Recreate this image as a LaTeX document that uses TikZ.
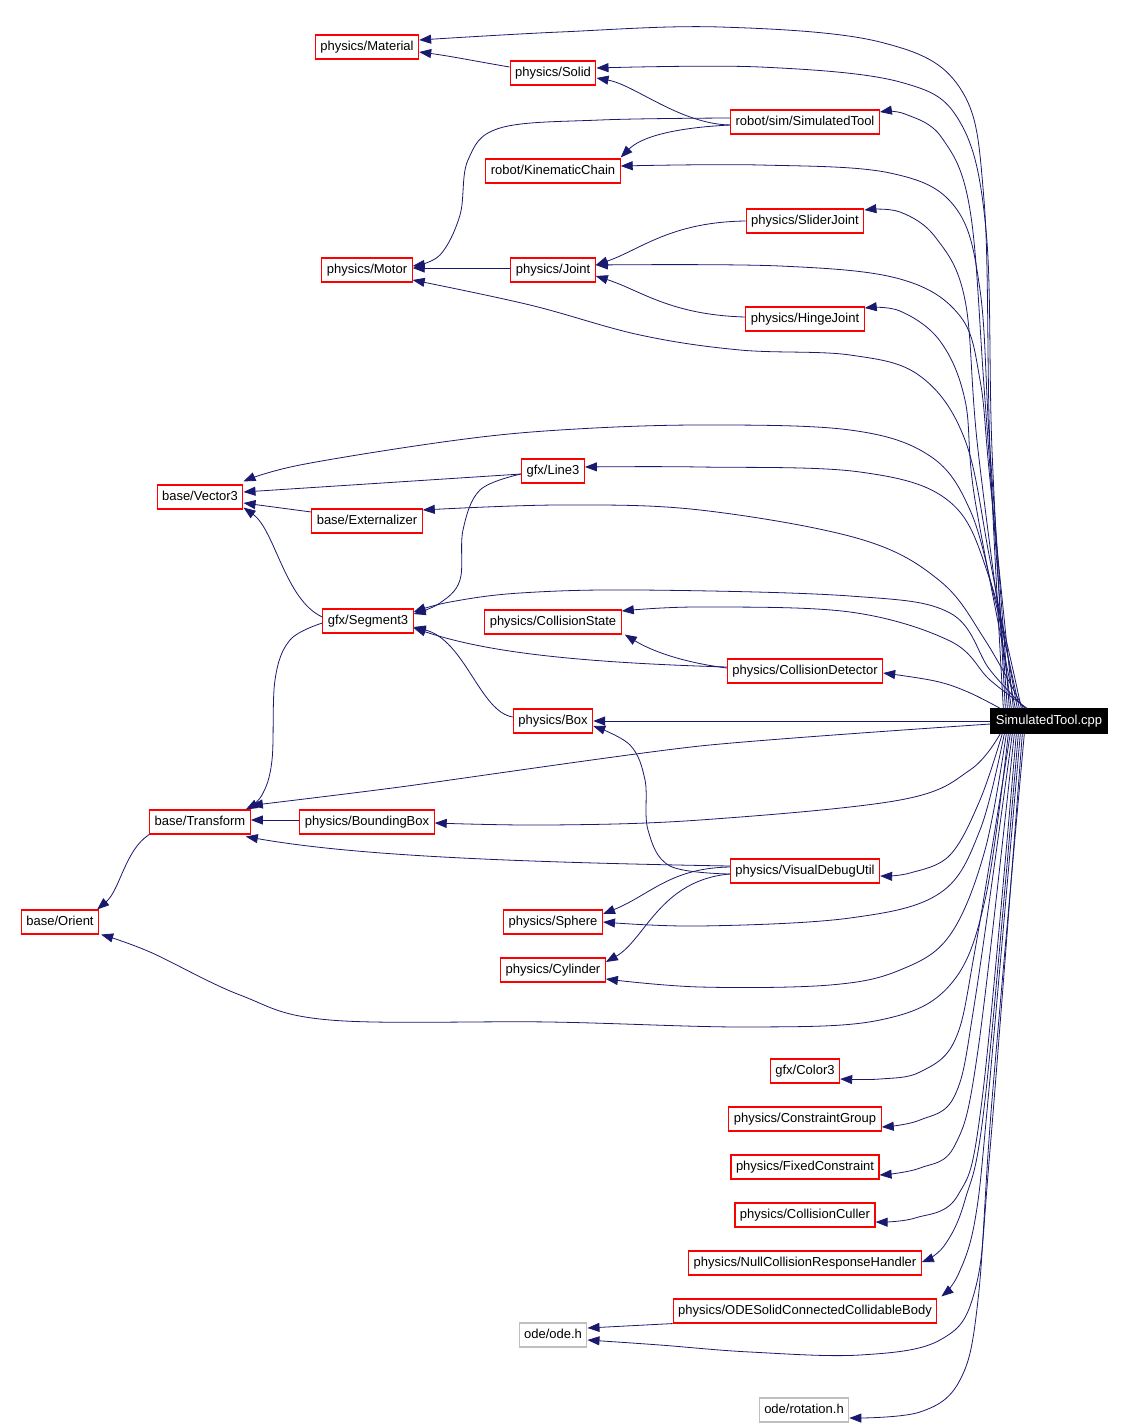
\documentclass[tikz,border=0pt]{standalone}
\usepackage{fontspec}
\setmainfont{Liberation Sans}
\usetikzlibrary{arrows.meta}
\definecolor{navy}{RGB}{25,25,112}
\definecolor{boxred}{RGB}{255,0,0}
\tikzset{
 hdr/.style={draw=boxred, line width=1.1pt, fill=white, minimum height=24pt, inner xsep=5pt, inner ysep=0pt,
   text height=9.5pt, text depth=2.8pt, font=\fontsize{13}{15}\selectfont},
 sys/.style={hdr, draw=black!25},
 mainnode/.style={hdr, draw=black, fill=black, text=white},
 dep/.style={draw=navy, line width=0.8pt, -{Triangle[length=12pt,width=9pt]}},
}
\begin{document}
\begin{tikzpicture}[x=1pt,y=-1pt]
\fill[white] (0,0) rectangle (1126,1427);
\useasboundingbox (0,0) rectangle (1126,1427);
% nodes
\node[hdr] (mat) at (367,47) {physics/Material};
\node[hdr] (sol) at (553,73) {physics/Solid};
\node[hdr] (simt) at (805,122) {robot/sim/SimulatedTool};
\node[hdr] (kin) at (553,171) {robot/KinematicChain};
\node[hdr] (slj) at (805,221) {physics/SliderJoint};
\node[hdr] (mot) at (367,270) {physics/Motor};
\node[hdr] (jnt) at (553,270) {physics/Joint};
\node[hdr] (hij) at (805,319) {physics/HingeJoint};
\node[hdr] (ln3) at (553,471) {gfx/Line3};
\node[hdr] (vec) at (200,497) {base/Vector3};
\node[hdr] (ext) at (367,521) {base/Externalizer};
\node[hdr] (seg) at (368,621) {gfx/Segment3};
\node[hdr] (cst) at (553,622) {physics/CollisionState};
\node[hdr] (cdt) at (805,671) {physics/CollisionDetector};
\node[hdr] (box) at (553,721) {physics/Box};
\node[mainnode] (main) at (1049,721) {SimulatedTool.cpp};
\node[hdr] (trf) at (200,822) {base/Transform};
\node[hdr] (bbx) at (367,822) {physics/BoundingBox};
\node[hdr] (vdu) at (805,871) {physics/VisualDebugUtil};
\node[hdr] (ori) at (60,922) {base/Orient};
\node[hdr] (sph) at (553,922) {physics/Sphere};
\node[hdr] (cyl) at (553,970) {physics/Cylinder};
\node[hdr] (col) at (805,1071) {gfx/Color3};
\node[hdr] (cgr) at (805,1119) {physics/ConstraintGroup};
\node[hdr] (fxc) at (805,1167) {physics/FixedConstraint};
\node[hdr] (ccu) at (805,1215) {physics/CollisionCuller};
\node[hdr] (ncr) at (805,1263) {physics/NullCollisionResponseHandler};
\node[hdr] (ode) at (805,1311) {physics/ODESolidConnectedCollidableBody};
\node[sys] (odh) at (553,1335) {ode/ode.h};
\node[sys] (rot) at (804,1410) {ode/rotation.h};

% edges from main (upwards)
\draw[dep] plot[smooth,tension=0.6] coordinates {([xshift=13pt]main.north west) (990,450) (984,200) (960,88) (880,42) (720,27) (560,32) ([yshift=7pt]mat.east)};
\draw[dep] plot[smooth,tension=0.6] coordinates {([xshift=15pt]main.north west) (992,450) (986,230) (960,122) (900,82) (760,67) ([yshift=5pt]sol.east)};
\draw[dep] plot[smooth,tension=0.6] coordinates {([xshift=17pt]main.north west) (985,400) (970,210) (942,138) (905,114) ([yshift=10pt]simt.east)};
\draw[dep] plot[smooth,tension=0.6] coordinates {([xshift=19pt]main.north west) (990,450) (980,290) (955,207) (890,173) (760,165) ([yshift=5pt]kin.east)};
\draw[dep] plot[smooth,tension=0.6] coordinates {([xshift=21pt]main.north west) (978,450) (965,300) (936,238) (900,212) ([yshift=11pt]slj.east)};
\draw[dep] plot[smooth,tension=0.6] coordinates {([xshift=23pt]main.north west) (990,480) (980,380) (960,316) (900,279) (780,266) ([yshift=5pt]jnt.east)};
\draw[dep] plot[smooth,tension=0.6] coordinates {([xshift=25pt]main.north west) (975,500) (965,400) (940,341) (900,311) ([yshift=11pt]hij.east)};
\draw[dep] plot[smooth,tension=0.6] coordinates {([xshift=27pt]main.north west) (990,560) (965,440) (920,376) (850,355) (740,350) (640,335) (530,305) ([yshift=-10pt]mot.east)};
\draw[dep] plot[smooth,tension=0.6] coordinates {([xshift=29pt]main.north west) (995,600) (970,510) (930,456) (850,430) (700,425) (560,430) (450,441) (300,465) ([yshift=3pt]vec.north east)};
\draw[dep] plot[smooth,tension=0.6] coordinates {([xshift=31pt]main.north west) (990,580) (950,502) (860,472) (700,467) ([yshift=4pt]ln3.east)};
\draw[dep] plot[smooth,tension=0.6] coordinates {([xshift=33pt]main.north west) (985,640) (940,581) (860,539) (700,510) (560,505) ([yshift=11pt]ext.east)};
\draw[dep] plot[smooth,tension=0.6] coordinates {([xshift=35pt]main.north west) (990,670) (950,613) (850,596) (640,590) (520,593) (450,602) ([yshift=9pt]seg.east)};
\draw[dep] plot[smooth,tension=0.6] coordinates {([xshift=37pt]main.north west) (990,680) (950,641) (850,612) (700,607) ([yshift=11pt]cst.east)};
\draw[dep] plot[smooth,tension=0.6] coordinates {([xshift=10pt]main.north west) (968,692) (935,681) ([yshift=-2pt]cdt.east)};
\draw[dep] (main.west) -- (box.east);
\draw[dep] plot[smooth,tension=0.4] coordinates {([yshift=-3pt]main.west) (700,746) (400,787) ([yshift=4pt]trf.north east)};

% edges from main (downwards)
\draw[dep] plot[smooth,tension=0.6] coordinates {([xshift=10pt]main.south west) (970,770) (900,800) (700,820) (550,825) ([yshift=-1pt]bbx.east)};
\draw[dep] plot[smooth,tension=0.6] coordinates {([xshift=12pt]main.south west) (980,800) (950,855) (910,873) ([yshift=-5pt]vdu.east)};
\draw[dep] plot[smooth,tension=0.6] coordinates {([xshift=14pt]main.south west) (980,830) (940,893) (850,918) (700,926) (sph.east)};
\draw[dep] plot[smooth,tension=0.6] coordinates {([xshift=16pt]main.south west) (985,850) (950,935) (900,970) (830,985) (700,987) ([yshift=-9pt]cyl.east)};
\draw[dep] plot[smooth,tension=0.6] coordinates {([xshift=18pt]main.south west) (985,900) (950,985) (880,1020) (750,1027) (550,1022) (330,1020) (240,995) (150,952) ([xshift=2pt]ori.south east)};
\draw[dep] plot[smooth,tension=0.6] coordinates {([xshift=20pt]main.south west) (975,950) (955,1040) (920,1072) (880,1079) ([yshift=-8pt]col.east)};
\draw[dep] plot[smooth,tension=0.6] coordinates {([xshift=22pt]main.south west) (975,1000) (955,1095) (920,1120) ([yshift=-8pt]cgr.east)};
\draw[dep] plot[smooth,tension=0.6] coordinates {([xshift=24pt]main.south west) (978,1050) (955,1145) (920,1168) ([yshift=-8pt]fxc.east)};
\draw[dep] plot[smooth,tension=0.6] coordinates {([xshift=26pt]main.south west) (982,1100) (958,1195) (915,1218) ([yshift=-7pt]ccu.east)};
\draw[dep] plot[smooth,tension=0.6] coordinates {([xshift=28pt]main.south west) (985,1100) (965,1200) (944,1246) ([yshift=1pt]ncr.east)};
\draw[dep] plot[smooth,tension=0.6] coordinates {([xshift=30pt]main.south west) (988,1100) (975,1220) (958,1275) ([xshift=4pt,yshift=2pt]ode.north east)};
\draw[dep] plot[smooth,tension=0.6] coordinates {([xshift=32pt]main.south west) (990,1150) (975,1290) (940,1340) (860,1355) (750,1352) (660,1345) ([yshift=-5pt]odh.east)};
\draw[dep] plot[smooth,tension=0.6] coordinates {([xshift=34pt]main.south west) (992,1100) (978,1300) (960,1380) (920,1412) ([yshift=-8pt]rot.east)};

% other edges
\draw[dep] ([yshift=6pt]sol.west) .. controls (480,62) and (450,56) .. ([yshift=-5pt]mat.east);
\draw[dep] ([yshift=-3pt]simt.west) .. controls (680,124) and (635,85) .. ([yshift=-5pt]sol.east);
\draw[dep] ([yshift=-3pt]simt.west) .. controls (670,128) and (640,138) .. ([yshift=1pt]kin.north east);
\draw[dep] plot[smooth,tension=0.6] coordinates {([yshift=4pt]simt.west) (600,120) (500,128) (468,160) (460,215) (440,255) ([yshift=4pt]mot.east)};
\draw[dep] (slj.west) .. controls (670,222) and (640,250) .. ([yshift=5pt]jnt.east);
\draw[dep] ([yshift=2pt]jnt.west) -- ([yshift=2pt]mot.east);
\draw[dep] ([yshift=2pt]hij.west) .. controls (670,315) and (640,290) .. ([yshift=-6pt]jnt.east);
\draw[dep] ([yshift=-3pt]ln3.west) -- ([yshift=5pt]vec.east);
\draw[dep] ([yshift=9pt]ext.west) -- ([yshift=-6pt]vec.east);
\draw[dep] ([yshift=4pt]seg.west) .. controls (285,600) and (275,530) .. ([yshift=2pt]vec.south east);
\draw[dep] plot[smooth,tension=0.6] coordinates {([yshift=-3pt]ln3.west) (480,490) (463,530) (460,580) (440,603) ([yshift=7pt]seg.east)};
\draw[dep] plot[smooth,tension=0.6] coordinates {([yshift=-2pt]seg.west) (290,640) (275,680) (272,760) (262,795) ([xshift=-5pt]trf.north east)};
\draw[dep] ([yshift=3pt]cdt.west) .. controls (680,662) and (650,650) .. ([xshift=3pt]cst.south east);
\draw[dep] ([yshift=4pt]cdt.west) .. controls (560,662) and (480,650) .. ([yshift=-7pt]seg.east);
\draw[dep] ([yshift=4pt]box.west) .. controls (480,712) and (465,640) .. ([yshift=-6pt]seg.east);
\draw[dep] plot[smooth,tension=0.6] coordinates {([yshift=-3pt]vdu.west) (670,866) (648,830) (645,780) (630,745) ([yshift=-5pt]box.east)};
\draw[dep] ([yshift=5pt]vdu.west) .. controls (500,862) and (350,855) .. ([xshift=-5pt,yshift=-2pt]trf.south east);
\draw[dep] ([yshift=4pt]vdu.west) .. controls (670,868) and (650,895) .. ([yshift=8pt]sph.east);
\draw[dep] ([yshift=-3pt]vdu.west) .. controls (660,880) and (645,940) .. ([yshift=8pt]cyl.east);
\draw[dep] ([yshift=2pt]bbx.west) -- ([yshift=2pt]trf.east);
\draw[dep] (trf.south west) .. controls (125,850) and (120,890) .. ([xshift=-2pt]ori.north east);
\draw[dep] (ode.south west) -- ([yshift=7pt]odh.east);
\end{tikzpicture}
\end{document}
